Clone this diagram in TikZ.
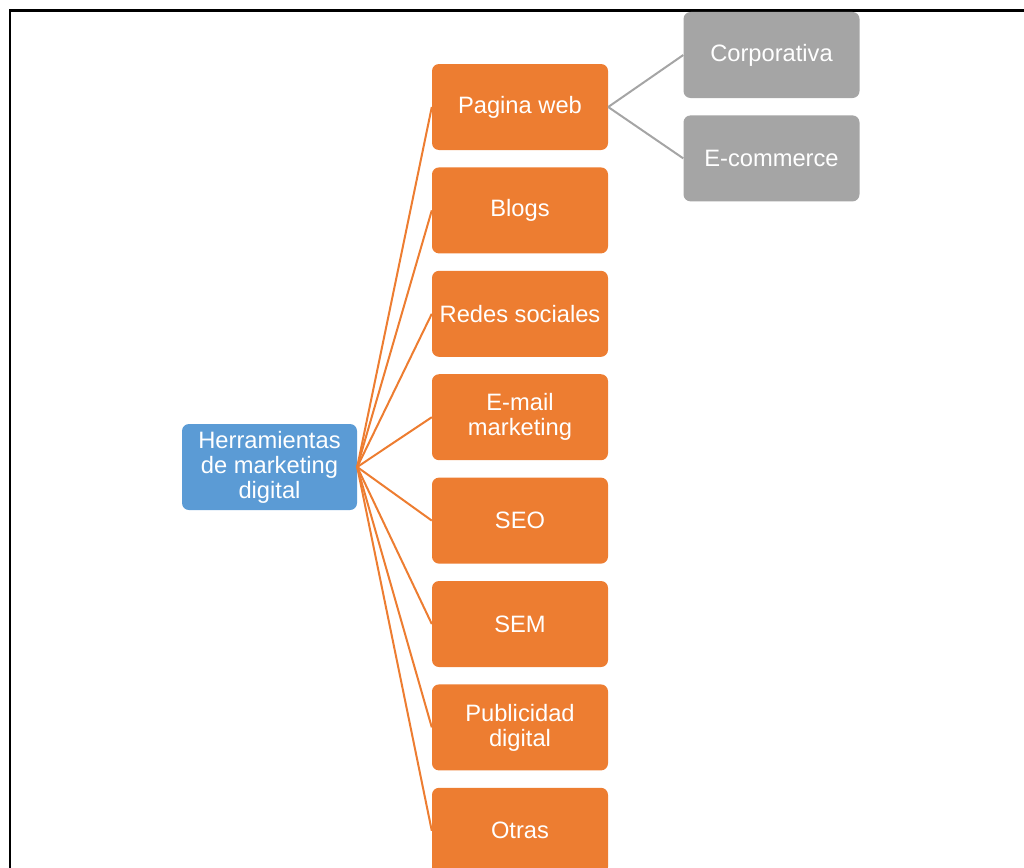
\documentclass[tikz,border=0pt]{standalone}
\usepackage{fontspec}
\setmainfont{Liberation Sans}
\usetikzlibrary{positioning}
\definecolor{rootblue}{HTML}{5B9BD5}
\definecolor{toolorange}{HTML}{ED7D31}
\definecolor{subgray}{HTML}{A5A5A5}
\tikzset{
	box/.style={rectangle, rounded corners=7bp, minimum width=176bp, minimum height=86bp, inner sep=0pt, text=white, align=center, font=\fontsize{23.7bp}{25bp}\selectfont},
	rootbox/.style={box, fill=rootblue, minimum width=175bp},
	toolbox/.style={box, fill=toolorange},
	subbox/.style={box, fill=subgray},
	link/.style={line width=2bp},
}

\begin{document}
\begin{tikzpicture}[x=1bp,y=-1bp]
	\useasboundingbox (0,0) rectangle (1024,868);
	\clip (0,0) rectangle (1024,868);
	\draw[line width=2.5bp] (10,10.5) rectangle (1060,920);
	% root and first level
	\node[rootbox] (root) at (269.5,467) {Herramientas\\de marketing\\digital};
	\node[toolbox] (web) at (520,107) {Pagina web};
	\node[toolbox, below=17bp of web] (blogs) {Blogs};
	\node[toolbox, below=17bp of blogs] (redes) {Redes sociales};
	\node[toolbox, below=17bp of redes] (email) {E-mail\\marketing};
	\node[toolbox, below=17bp of email] (seo) {SEO};
	\node[toolbox, below=17bp of seo] (sem) {SEM};
	\node[toolbox, below=17bp of sem] (publi) {Publicidad\\digital};
	\node[toolbox, below=17bp of publi] (otras) {Otras};
	% second level
	\node[subbox] (corp) at (771.5,55) {Corporativa};
	\node[subbox, below=17bp of corp] (ecom) {E-commerce};
	\path[link, draw=toolorange]
		(root.east) edge (web.west)
		(root.east) edge (blogs.west)
		(root.east) edge (redes.west)
		(root.east) edge (email.west)
		(root.east) edge (seo.west)
		(root.east) edge (sem.west)
		(root.east) edge (publi.west)
		(root.east) edge (otras.west);
	\path[link, draw=subgray]
		(web.east) edge (corp.west)
		(web.east) edge (ecom.west);
\end{tikzpicture}
\end{document}
